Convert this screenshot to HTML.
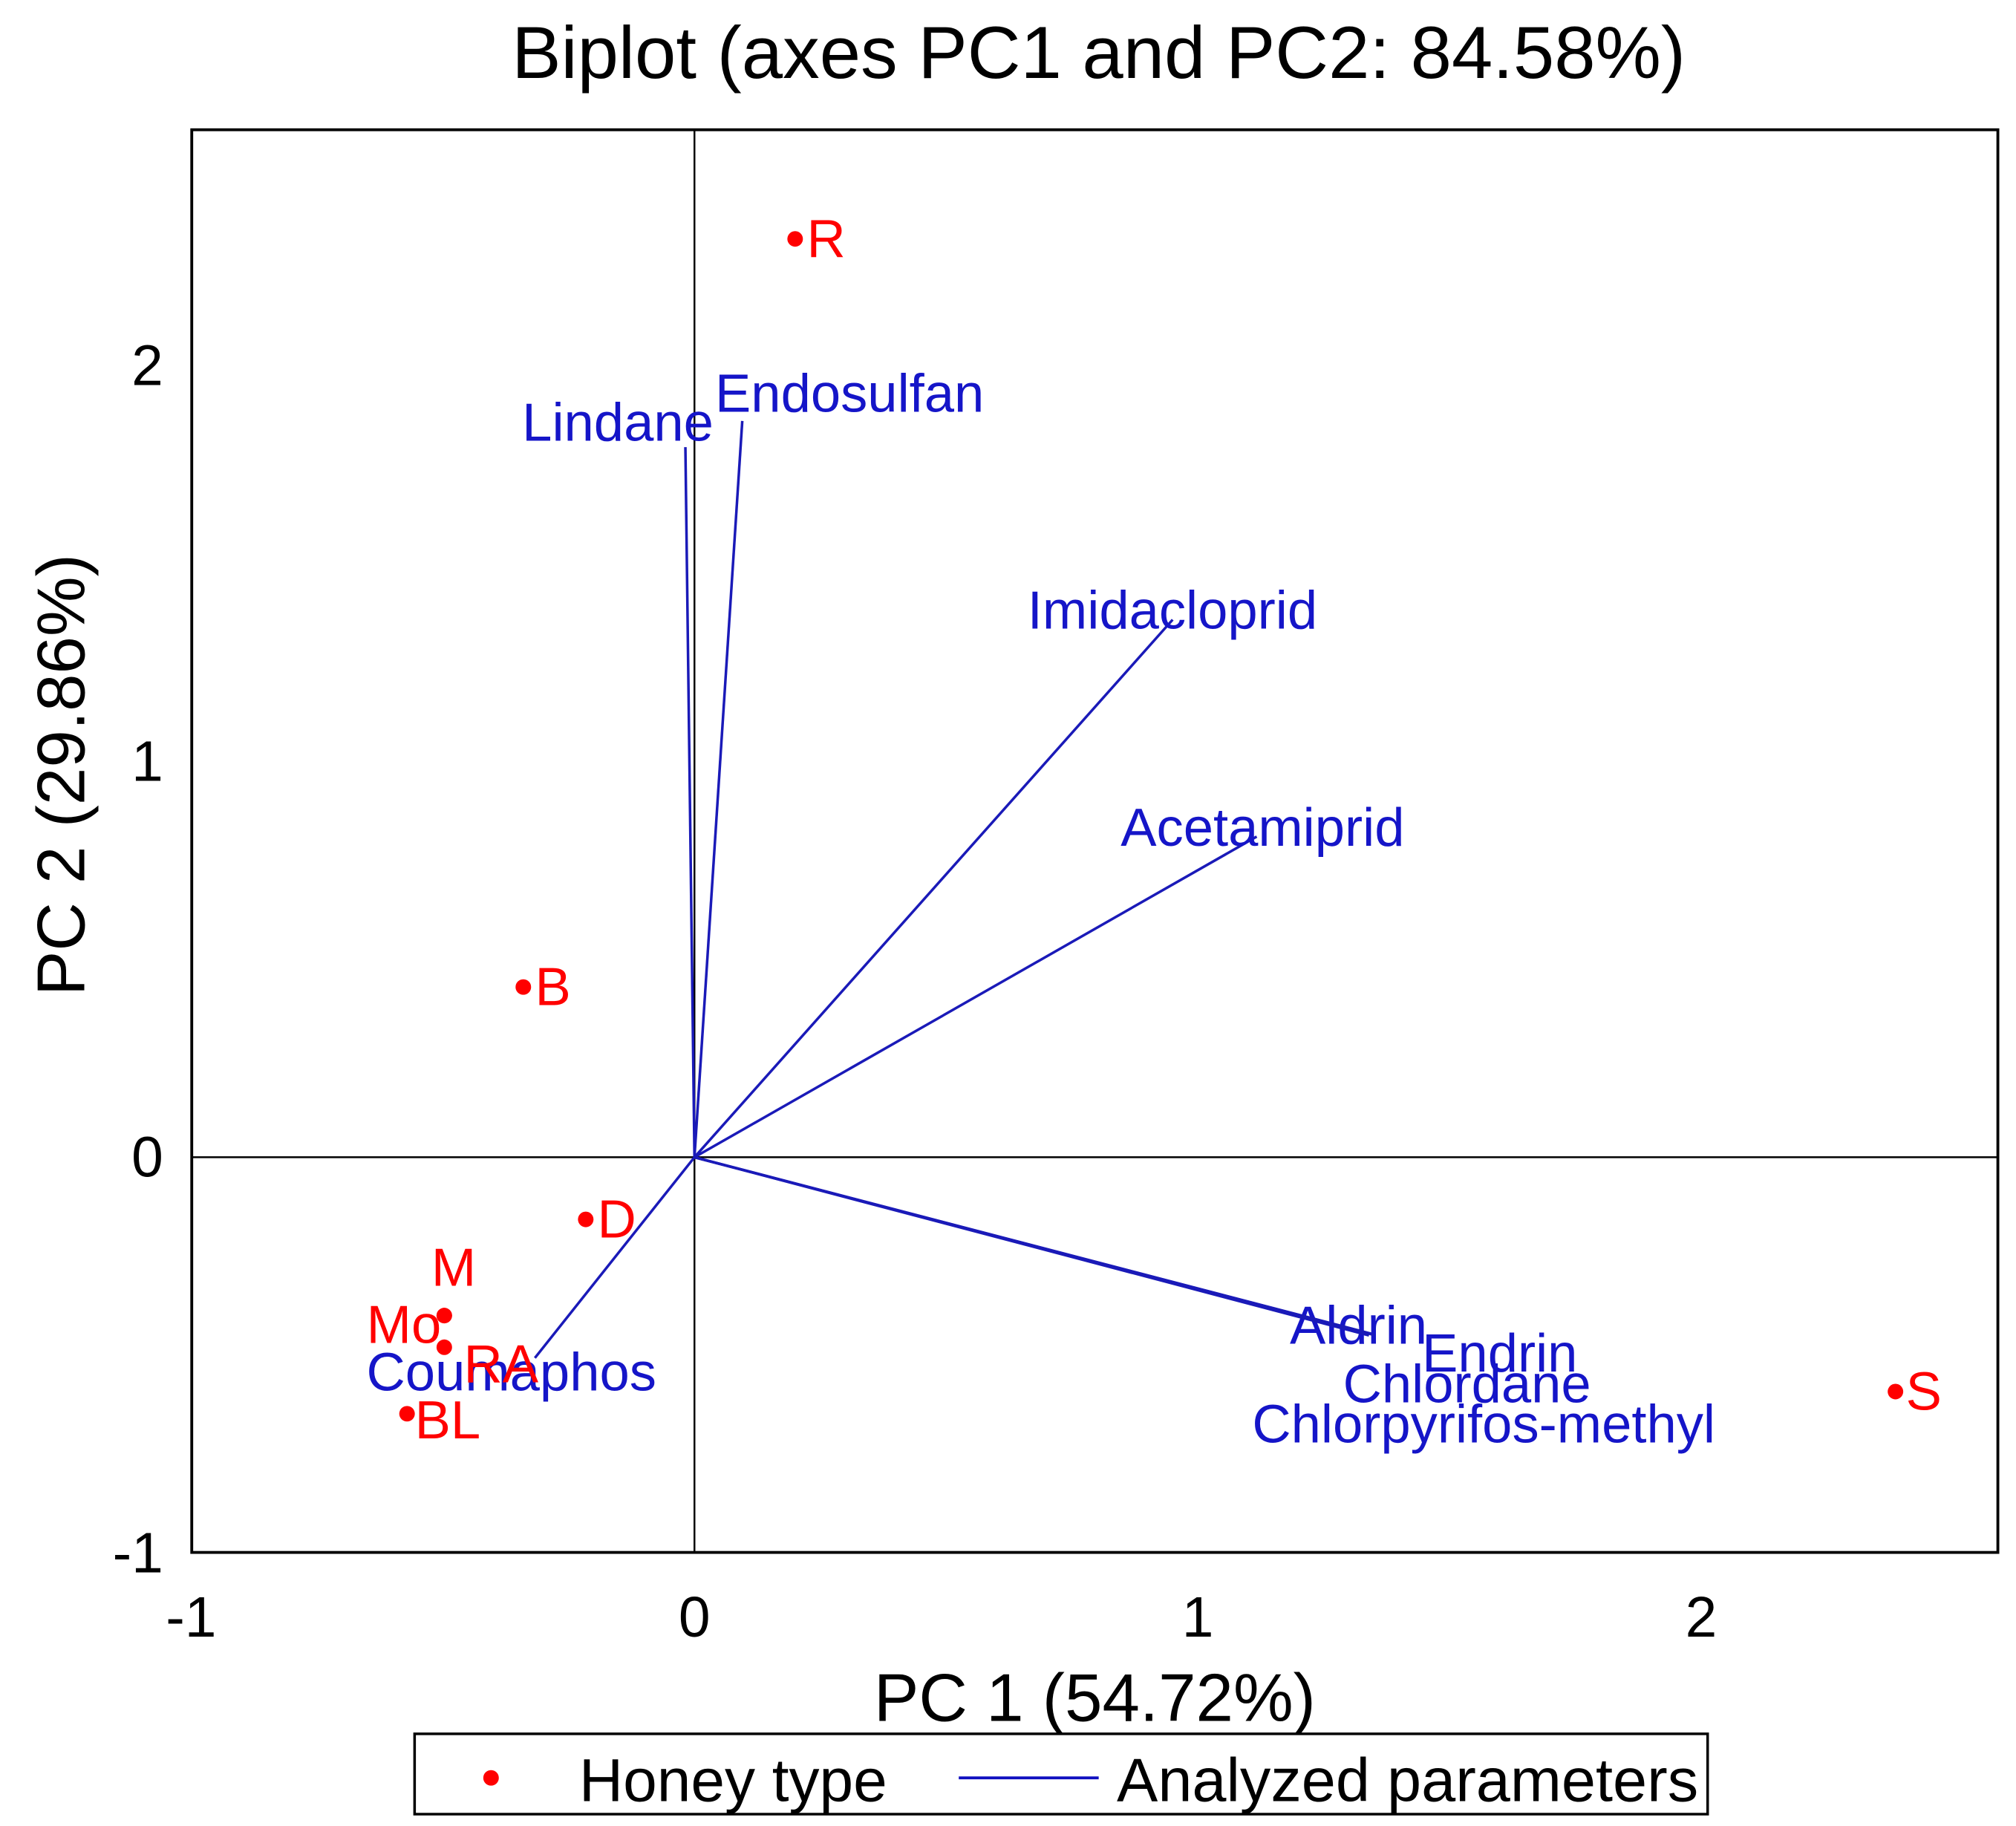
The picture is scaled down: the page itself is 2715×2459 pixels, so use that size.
<!DOCTYPE html>
<html><head><meta charset="utf-8"><style>
html,body{margin:0;padding:0;background:#fff}
svg{display:block}
text{font-family:"Liberation Sans",Arial,sans-serif}
</style></head><body>
<svg id="chart" width="2715" height="2459" viewBox="0 0 1556 1409" xmlns="http://www.w3.org/2000/svg">
<rect x="0" y="0" width="1556" height="1409" fill="#fff"/>
<text x="848" y="60" font-size="57" text-anchor="middle" fill="#000">Biplot (axes PC1 and PC2: 84.58%)</text>
<g id="grid"></g>
<g id="vectors"></g>
<g id="points"></g>
<rect x="148" y="100" width="1394" height="1098" fill="none" stroke="#000" stroke-width="2.2"/>
<g id="ticks"></g>
<text x="845" y="1328" font-size="52" text-anchor="middle" fill="#000">PC 1 (54.72%)</text>
<text transform="translate(65,598) rotate(-90)" font-size="52" text-anchor="middle" fill="#000">PC 2 (29.86%)</text>
<g>
<rect x="320" y="1338" width="998" height="62" fill="#fff" stroke="#000" stroke-width="2"/>
<circle cx="379" cy="1372" r="6" fill="#f00"/>
<text x="447" y="1390" font-size="47" fill="#000">Honey type</text>
<line x1="740" y1="1372" x2="848" y2="1372" stroke="#1010c0" stroke-width="2.2"/>
<text x="862" y="1390" font-size="47.5" fill="#000">Analyzed parameters</text>
</g>
</svg>
<script>
const xTicks=[-1,0,1,2];
const yTicks=[-1,0,1,2];
const xTickLabels=["-1","0","1","2"];
const yTickLabels=["-1","0","1","2"];
const honeyNames=["R","B","D","M","Mo","RA","BL","S"];
const honeyPC1=[0.20,-0.34,-0.216,-0.497,-0.497,-0.497,-0.571,2.386];
const honeyPC2=[2.32,0.43,-0.157,-0.40,-0.40,-0.48,-0.648,-0.592];
const paramNames=["Lindane","Endosulfan","Imidacloprid","Acetamiprid","Aldrin","Endrin","Chlordane","Chlorpyrifos-methyl","Coumaphos"];
const paramPC1=[-0.018,0.095,0.95,1.117,1.35,1.34,1.345,1.35,-0.317];
const paramPC2=[1.794,1.86,1.358,0.81,-0.448,-0.45,-0.446,-0.449,-0.507];
// label layout offsets (screen px) — not data
const honeyLabelDx=[9,9,9,-10,-60,15,6,8], honeyLabelDy=[14,14,14,-23,21,27,19,14];
const paramLabelDx=[-126,-21,-112,-105,-65,41,-22,-94,-130], paramLabelDy=[-5,-7,7,7,7,28,53,83,25];

const X0=536,XU=388.5,Y0=893,YU=305.5;
const sx=v=>X0+v*XU, sy=v=>Y0-v*YU;
const NS="http://www.w3.org/2000/svg";
function mk(tag,attrs,parent,text){const e=document.createElementNS(NS,tag);for(const k in attrs)e.setAttribute(k,attrs[k]);if(text!==undefined)e.textContent=text;parent.appendChild(e);return e;}
const grid=document.getElementById('grid');
let l=mk('line',{x1:sx(0),y1:100,x2:sx(0),y2:1198,stroke:'#000','stroke-width':1.4},grid);


l=mk('line',{x1:148,y1:sy(0),x2:1542,y2:sy(0),stroke:'#000','stroke-width':1.4},grid);


const ticks=document.getElementById('ticks');
xTicks.forEach((v,i)=>{const t=mk('text',{x:sx(v),y:1263,'font-size':44,'text-anchor':'middle',fill:'#000'},ticks,xTickLabels[i]);

});
yTicks.forEach((v,i)=>{const t=mk('text',{x:126,y:sy(v)+15,'font-size':44,'text-anchor':'end',fill:'#000'},ticks,yTickLabels[i]);

});
const vec=document.getElementById('vectors');
paramNames.forEach((n,i)=>{const x=sx(paramPC1[i]),y=sy(paramPC2[i]);
const ln=mk('line',{x1:sx(0),y1:sy(0),x2:x,y2:y,stroke:'#1a1ab8','stroke-width':2},vec);


const t=mk('text',{x:x+paramLabelDx[i],y:y+paramLabelDy[i],'font-size':41.5,fill:'#1515c8'},vec,n);

});
const pts=document.getElementById('points');
honeyNames.forEach((n,i)=>{const x=sx(honeyPC1[i]),y=sy(honeyPC2[i]);
const c=mk('circle',{cx:x,cy:y,r:6,fill:'#f00'},pts);


const t=mk('text',{x:x+honeyLabelDx[i],y:y+honeyLabelDy[i],'font-size':41.5,fill:'#f00'},pts,n);

});
</script>
</body></html>
